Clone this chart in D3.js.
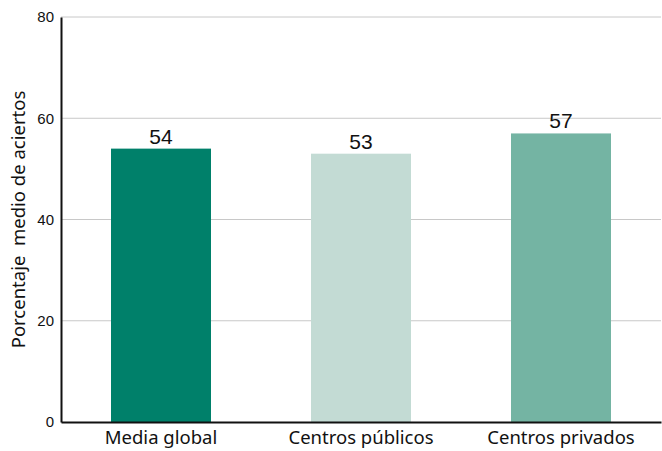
<!DOCTYPE html>
<html>
<head>
<meta charset="utf-8">
<script src="https://cdn.jsdelivr.net/npm/d3@7"></script>
<style>
  body { margin: 0; background: #fff; }
  svg { display: block; }
</style>
</head>
<body>
<svg id="chart" width="662" height="451"></svg>
<script>
'use strict';

const categories = ["Media global", "Centros públicos", "Centros privados"];
const values = [54, 53, 57];
const barColors = ["#00806a", "#c3dbd4", "#74b4a3"];
const yTicks = [0, 20, 40, 60, 80];

const svg = d3.select("#chart");
const width = 662, height = 451;
const margin = { top: 17, right: 1, bottom: 29, left: 61 };

const x = d3.scaleBand()
  .domain(categories)
  .range([margin.left, width - margin.right])
  .paddingInner(0.5)
  .paddingOuter(0.25);

const y = d3.scaleLinear()
  .domain([0, 80])
  .range([height - margin.bottom, margin.top]);

// Grid lines
svg.append("g")
  .selectAll("line")
  .data(yTicks.filter(d => d > 0))
  .enter()
  .append("line")
  .attr("x1", margin.left)
  .attr("x2", width - margin.right)
  .attr("y1", d => y(d))
  .attr("y2", d => y(d))
  .attr("stroke", "#c8c8c8")
  .attr("stroke-width", 1);

// Bars
svg.append("g")
  .selectAll("rect")
  .data(values)
  .enter()
  .append("rect")
  .attr("x", (d, i) => x(categories[i]))
  .attr("y", d => y(d))
  .attr("width", x.bandwidth())
  .attr("height", d => y(0) - y(d))
  .attr("fill", (d, i) => barColors[i]);

// Value labels
svg.append("g")
  .selectAll("text")
  .data(values)
  .enter()
  .append("text")
  .attr("x", (d, i) => x(categories[i]) + x.bandwidth() / 2)
  .attr("y", d => y(d) - 5)
  .attr("text-anchor", "middle")
  .style("font-family", "'Liberation Sans', Arial, sans-serif")
  .style("font-size", "21px")
  .attr("fill", "#111")
  .text(d => d);

// Y axis
const yAxis = svg.append("g")
  .attr("transform", `translate(${margin.left},0)`)
  .call(d3.axisLeft(y).tickValues(yTicks).tickSize(0).tickPadding(7));
yAxis.select(".domain").attr("stroke", "#111").attr("stroke-width", 2);
yAxis.selectAll("text")
  .style("font-family", "'Liberation Sans', Arial, sans-serif")
  .style("font-size", "15px")
  .attr("fill", "#111");

// X axis
const xAxis = svg.append("g")
  .attr("transform", `translate(0,${y(0)})`)
  .call(d3.axisBottom(x).tickSize(0).tickPadding(9));
xAxis.select(".domain").attr("stroke", "#111").attr("stroke-width", 2);
xAxis.selectAll("text")
  .style("font-family", "'Noto Sans', sans-serif")
  .style("font-size", "18.5px")
  .attr("fill", "#111");

// Y title
svg.append("text")
  .attr("transform", `translate(25,${(y(0) + y(80)) / 2}) rotate(-90)`)
  .attr("text-anchor", "middle")
  .style("font-family", "'Noto Sans', sans-serif")
  .style("font-size", "18.5px")
  .style("white-space", "pre")
  .attr("fill", "#111")
  .text("Porcentaje  medio de aciertos");
</script>
</body>
</html>
